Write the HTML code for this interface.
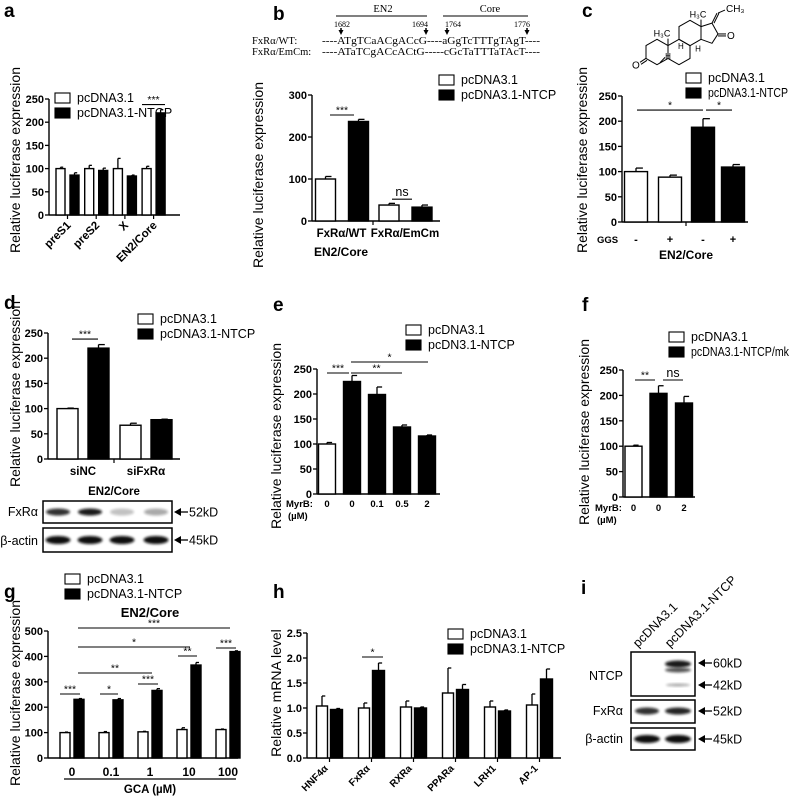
<!DOCTYPE html>
<html><head><meta charset="utf-8">
<style>
html,body{margin:0;padding:0;background:#fff;}
svg{display:block;font-family:"Liberation Sans",Arial,sans-serif;}
.tk{font-size:11px;font-weight:bold;}
.yl{font-size:14px;}
.lg{font-size:12.5px;}
.pl{font-size:19px;font-weight:bold;}
.sig{font-size:10.5px;}
.ser{font-family:"Liberation Serif",serif;font-size:10.5px;}
</style></head>
<body>
<svg id="fig" width="790" height="796" viewBox="0 0 790 796">
<defs>
<filter id="blur" x="-20%" y="-50%" width="140%" height="200%"><feGaussianBlur stdDeviation="1.3"/></filter>
</defs>
</svg>
<script>
// ---------- data ----------
const aCats=["preS1","preS2","X","EN2/Core"];
const aWhite=[100,100,100,100];const aWhiteErr=[3,7,22,5];
const aBlack=[86,96,84,220];const aBlackErr=[5,5,2,7];
const aTicks=[0,50,100,150,200,250];

const bCats=["FxR\u03b1/WT","FxR\u03b1/EmCm"];
const bWhite=[100,38];const bWhiteErr=[6,4];
const bBlack=[237,33];const bBlackErr=[5,5];
const bTicks=[0,100,200,300];

const cGGS=["-","+","-","+"];
const cVals=[100,89,188,109];const cErr=[7,4,17,5];
const cTicks=[0,50,100,150,200,250];

const dCats=["siNC","siFxR\u03b1"];
const dWhite=[100,67];const dWhiteErr=[1,4];
const dBlack=[220,78];const dBlackErr=[7,1];
const dTicks=[0,50,100,150,200,250];

const eDose=["0","0","0.1","0.5","2"];
const eVals=[100,225,199,134,116];const eErr=[3,12,15,4,2];
const eTicks=[0,50,100,150,200,250];

const fDose=["0","0","2"];
const fVals=[100,204,185];const fErr=[2,15,13];
const fTicks=[0,50,100,150,200,250];

const gCats=["0","0.1","1","10","100"];
const gWhite=[100,100,103,112,112];const gWhiteErr=[2,4,2,7,2];
const gBlack=[231,229,266,366,419];const gBlackErr=[3,5,7,10,3];
const gTicks=[0,100,200,300,400,500];

const hCats=["HNF4\u03b1","FxR\u03b1","RXRa","PPARa","LRH1","AP-1"];
const hWhite=[1.04,1.0,1.02,1.3,1.02,1.06];const hWhiteErr=[0.2,0.1,0.12,0.5,0.12,0.22];
const hBlack=[0.97,1.75,1.0,1.37,0.94,1.58];const hBlackErr=[0.02,0.15,0.02,0.1,0.02,0.2];
const hTicks=[0,0.5,1.0,1.5,2.0,2.5];

// ---------- helpers ----------
const svg=document.getElementById('fig');
const NS='http://www.w3.org/2000/svg';
function mk(tag,at,txt){const e=document.createElementNS(NS,tag);for(const k in at)e.setAttribute(k,at[k]);if(txt!==undefined)e.textContent=txt;svg.appendChild(e);return e;}
function line(x1,y1,x2,y2,w){return mk('line',{x1,y1,x2,y2,stroke:'#000','stroke-width':w||1.2});}
function txt(x,y,s,cls,anchor,extra){const at={x,y,'text-anchor':anchor||'start'};if(cls)at['class']=cls;if(extra)Object.assign(at,extra);return mk('text',at,s);}
function scale(y0,ytop,vmax){return v=>y0-v/vmax*(y0-ytop);}
function yAxis(ax,y0,ytop,xEnd,ticks,vmax,fmt,name){
  const Y=scale(y0,ytop,vmax);
  const a=line(ax,Y(ticks[ticks.length-1]),ax,y0,1.4);
  
  const b=line(ax,y0,xEnd,y0,1.4);
  
  ticks.forEach(t=>{line(ax-4,Y(t),ax,Y(t),1.3);
    const l=txt(ax-5,Y(t)+4,fmt?fmt(t):String(t),'tk','end');
    });
  return Y;
}
function bar(x,w,v,err,fill,Y,y0,name){
  const yt=Y(v);
  const r=mk('rect',{x,y:yt,width:w,height:y0-yt,fill:fill,stroke:'#000','stroke-width':1.4});
  
  const ye=Y(v+err);
  line(x+w/2,yt,x+w/2,ye,1.3);line(x+w/2,ye,x+w/2+w*0.3,ye,1.3);
}
function sig(x1,x2,y,s){line(x1,y,x2,y,1.1);const t=txt((x1+x2)/2,y-(s==='ns'?3:1.5),s,s==='ns'?'lg':'sig','middle');}
function ylabel(x,yc,s,fs){const t=txt(x,yc,s,'yl','middle',{transform:`rotate(-90 ${x} ${yc})`});if(fs)t.setAttribute('style','font-size:'+fs+'px');}
function legend(x,y,items,maxw){items.forEach((it,i)=>{const r=mk('rect',{x,y:y+i*15-9,width:15,height:10,fill:it[1],stroke:'#000','stroke-width':1.1});
  
  const ex={};if(maxw&&i===1){ex.textLength=maxw;ex.lengthAdjust='spacingAndGlyphs';}
  const t=txt(x+22,y+i*15,it[0],'lg','start',ex);});}
function plabel(x,y,s){const t=txt(x,y,s,'pl');}
function band(cx,cy,w,h,op){const e=mk('ellipse',{cx,cy,rx:w/2,ry:h/2,fill:'#111',opacity:op,filter:'url(#blur)'});}
function box(x,y,w,h,name){const r=mk('rect',{x,y,width:w,height:h,fill:'none',stroke:'#000','stroke-width':1.5});}
function arrowLabel(x,y,s){mk('polygon',{points:`${x},${y} ${x+7},${y-4} ${x+7},${y+4}`,fill:'#000'});line(x+6,y,x+14,y,1.3);const t=txt(x+15,y+4.5,s,'lg');}

// ---------- panel a ----------
plabel(4,17,'a');
{const ax=49,y0=215,Y=yAxis(ax,y0,99,180,aTicks,250,null,'a');
 aCats.forEach((c,i)=>{const cx=67.5+i*28.7;
  bar(cx-11.5,9,aWhite[i],aWhiteErr[i],'#fff',Y,y0,'a-bar-pcdna-'+c);
  bar(cx+2.5,9,aBlack[i],aBlackErr[i],'#000',Y,y0,'a-bar-ntcp-'+c);
  line(cx,y0,cx,y0+4,1.2);
  const t=txt(cx+4,226,c,'tk','end',{transform:`rotate(-45 ${cx+4} 226)`,style:'font-size:11.5px'});
  });
 sig(142,165,Y(238),'***');
 ylabel(20,160,'Relative luciferase expression');
 legend(55,102,[['pcDNA3.1','#fff'],['pcDNA3.1-NTCP','#000']]);}

// ---------- panel b ----------
plabel(273,20,'b');
{line(336,16,427,16,1);line(443,16,528,16,1);
 txt(383,12,'EN2','ser','middle');txt(490,12,'Core','ser','middle');
 [[342,'1682'],[420,'1694'],[453,'1764'],[522,'1776']].forEach(p=>txt(p[0],27,p[1],'ser','middle',{style:'font-size:8px'}));
 [341,426,447,527].forEach(x=>{mk('polygon',{points:`${x-2.5},30 ${x+2.5},30 ${x},35`,fill:'#000'});line(x,28,x,31,1.5);});
 txt(252,44,'FxR\u03b1/WT:','ser');txt(252,55,'FxR\u03b1/EmCm:','ser');
 txt(322,44,'----ATgTCaACgACcG----aGgTcTTTgTAgT----','ser','start',{textLength:218,lengthAdjust:'spacingAndGlyphs'});
 txt(322,55,'----ATaTCgACcACtG-----cGcTaTTTaTAcT----','ser','start',{textLength:218,lengthAdjust:'spacingAndGlyphs'});
 const ax=312,y0=221,Y=yAxis(ax,y0,95,440,bTicks,300,null,'b');
 bCats.forEach((c,i)=>{const cx=341.5+i*63.5;
  bar(cx-26,20,bWhite[i],bWhiteErr[i],'#fff',Y,y0,'b-bar-pcdna-'+i);
  bar(cx+7,20,bBlack[i],bBlackErr[i],'#000',Y,y0,'b-bar-ntcp-'+i);
  const t=txt(cx,237,c,'tk','middle',{style:'font-size:11.5px'});});
 line(373,y0,373,y0+4,1.2);
 sig(330,354,115,'***');sig(392,412,Y(52),'ns');
 txt(341,256,'EN2/Core','tk','middle',{style:'font-size:12px'});
 ylabel(263,175,'Relative luciferase expression');
 legend(439,84,[['pcDNA3.1','#fff'],['pcDNA3.1-NTCP','#000']]);}

// ---------- panel c ----------
plabel(582,17,'c');
{const s=12.7,h=s*Math.sqrt(3)/2;
 function hex(cx,cy){const p=[];for(let k=0;k<6;k++){const a=Math.PI/180*(60*k-90);p.push((cx+s*Math.cos(a)).toFixed(1)+','+(cy+s*Math.sin(a)).toFixed(1));}
  const e=mk('polygon',{points:p.join(' '),fill:'none',stroke:'#000','stroke-width':1});}
 const A=[657,52],B=[657+2*h,52],C=[657+3*h,52-1.5*s];
 hex(...A);hex(...B);hex(...C);
 line(A[0]+h-3,A[1]+s/2-1,A[0]+3,A[1]+s-2,1);
 const c1=[C[0]+h,C[1]-s/2],c2=[C[0]+h,C[1]+s/2];
 const d1=[c1[0]+11,c1[1]-3.5],d2=[c1[0]+17,C[1]+1],d3=[c2[0]+11,c2[1]+4];
 mk('polyline',{points:`${c1} ${d1} ${d2} ${d3} ${c2}`,fill:'none',stroke:'#000','stroke-width':1});
 line(d2[0],d2[1],d2[0]+8,d2[1],1);line(d2[0],d2[1]+2,d2[0]+8,d2[1]+2,1);
 txt(d2[0]+9,d2[1]+5,'O','','start',{style:'font-size:10px'});
 line(d1[0],d1[1],d1[0]+5,d1[1]-10,1);line(d1[0]+2,d1[1],d1[0]+7,d1[1]-10,1);line(d1[0]+6,d1[1]-10,d1[0]+13,d1[1]-13,1);
 txt(d1[0]+14,d1[1]-11,'CH\u2083','','start',{style:'font-size:10px'});
 line(c1[0],c1[1],c1[0],c1[1]-7,1);txt(c1[0]-3,c1[1]-9,'H\u2083C','','middle',{style:'font-size:9px'});
 line(B[0]-h,B[1]-s/2,B[0]-h,B[1]-s/2-7,1);txt(B[0]-h-6,B[1]-s/2-9,'H\u2083C','','middle',{style:'font-size:9px'});
 const ox=A[0]-h,oy=A[1]+s/2;line(ox,oy,ox-6,oy+4,1);line(ox+1,oy+2,ox-5,oy+6,1);txt(ox-14,oy+10,'O','','start',{style:'font-size:10px'});
 txt(B[0]-1,B[1]-3,'H','','start',{style:'font-size:8px'});txt(B[0]-h,B[1]+7,'H','','middle',{style:'font-size:8px'});txt(C[0]+h-3,C[1]+s+6,'H','','middle',{style:'font-size:8px'});
 const ax=622,y0=222,Y=yAxis(ax,y0,96,748,cTicks,250,null,'c');
 const cx=[636,670,703,733];
 cVals.forEach((v,i)=>{bar(cx[i]-11.5,23,v,cErr[i],i<2?'#fff':'#000',Y,y0,'c-bar-'+i);
  const t=txt(cx[i],243,cGGS[i],'tk','middle');});
 line(686,y0,686,y0+4,1.2);
 txt(597,243,'GGS','tk','start',{style:'font-size:9.5px'});
 sig(637,703,Y(222),'*');sig(706,732,Y(222),'*');
 txt(686,259,'EN2/Core','tk','middle',{style:'font-size:12px'});
 ylabel(587,160,'Relative luciferase expression');
 legend(686,82,[['pcDNA3.1','#fff'],['pcDNA3.1-NTCP','#000']],80);}

// ---------- panel d ----------
plabel(4,309,'d');
{const ax=48,y0=459,Y=yAxis(ax,y0,333,180,dTicks,250,null,'d');
 dCats.forEach((c,i)=>{const cx=83+i*63;
  bar(cx-26,21,dWhite[i],dWhiteErr[i],'#fff',Y,y0,'d-bar-pcdna-'+i);
  bar(cx+5,21,dBlack[i],dBlackErr[i],'#000',Y,y0,'d-bar-ntcp-'+i);
  const t=txt(cx,475,c,'tk','middle',{style:'font-size:11.5px'});});
 line(114,y0,114,y0+4,1.2);
 sig(72,98,Y(238),'***');
 txt(114,495,'EN2/Core','tk','middle',{style:'font-size:11.5px'});
 ylabel(20,394,'Relative luciferase expression');
 legend(138,323,[['pcDNA3.1','#fff'],['pcDNA3.1-NTCP','#000']]);
 box(43,501,129,22,'d-blot-fxra');box(43,528,129,24,'d-blot-actin');
 [[58,.85],[90,.95],[122,.25],[156,.35]].forEach(b=>band(b[0],512,24,7,b[1]));
 [58,90,122,156].forEach(x=>band(x,540,25,8,1));
 txt(38,516,'FxR\u03b1','lg','end');txt(38,545,'\u03b2-actin','lg','end');
 arrowLabel(174,512,'52kD');arrowLabel(174,540,'45kD');}

// ---------- panel e ----------
plabel(273,311,'e');
{const ax=317,y0=494,Y=yAxis(ax,y0,369,440,eTicks,250,null,'e');
 eVals.forEach((v,i)=>{const cx=327+i*25;bar(cx-8.5,17,v,eErr[i],i===0?'#fff':'#000',Y,y0,'e-bar-'+i);
  const t=txt(cx,507,eDose[i],'tk','middle',{style:'font-size:9.5px'});});
 txt(286,507,'MyrB:','tk','start',{style:'font-size:9.5px'});txt(288,519,'(\u00b5M)','tk','start',{style:'font-size:9.5px'});
 sig(327,349,373,'***');sig(351,402,373,'**');sig(351,428,362,'*');
 ylabel(281,436,'Relative luciferase expression');
 legend(406,334,[['pcDNA3.1','#fff'],['pcDN3.1-NTCP','#000']]);}

// ---------- panel f ----------
plabel(582,311,'f');
{const ax=623,y0=497,Y=yAxis(ax,y0,370,695,fTicks,250,null,'f');
 fVals.forEach((v,i)=>{const cx=[633.5,658.5,684][i];bar(cx-8.5,17,v,fErr[i],i===0?'#fff':'#000',Y,y0,'f-bar-'+i);
  const t=txt(cx,511,fDose[i],'tk','middle',{style:'font-size:9.5px'});});
 txt(595,511,'MyrB:','tk','start',{style:'font-size:9.5px'});txt(597,523,'(\u00b5M)','tk','start',{style:'font-size:9.5px'});
 sig(635,655,380,'**');sig(663,683,380,'ns');
 ylabel(589,432,'Relative luciferase expression');
 legend(669,341,[['pcDNA3.1','#fff'],['pcDNA3.1-NTCP/mk','#000']],98);}

// ---------- panel g ----------
plabel(4,598,'g');
{const ax=48,y0=758,Y=yAxis(ax,y0,631,238,gTicks,500,null,'g');
 gCats.forEach((c,i)=>{const cx=72+i*39;
  bar(cx-12,10,gWhite[i],gWhiteErr[i],'#fff',Y,y0,'g-bar-pcdna-'+c);
  bar(cx+2,10,gBlack[i],gBlackErr[i],'#000',Y,y0,'g-bar-ntcp-'+c);
  const t=txt(cx,776,c,'tk','middle',{style:'font-size:12px'});});
 line(64,779,236,779,1.3);
 txt(150,793,'GCA (\u00b5M)','tk','middle',{style:'font-size:11.5px'});
 txt(150,617,'EN2/Core','tk','middle',{style:'font-size:13px'});
 sig(60,80,694,'***');sig(100,118,694,'*');sig(138,158,684,'***');sig(178,197,656,'**');sig(216,236,648,'***');
 sig(78,152,673,'**');sig(78,190,647,'*');sig(78,230,628,'***');
 ylabel(20,693,'Relative luciferase expression');
 legend(65,583,[['pcDNA3.1','#fff'],['pcDNA3.1-NTCP','#000']]);}

// ---------- panel h ----------
plabel(273,598,'h');
{const ax=307,y0=758,Y=yAxis(ax,y0,633,561,hTicks,2.5,t=>t.toFixed(1),'h');
 hCats.forEach((c,i)=>{const cx=329.5+i*42;
  bar(cx-13,11,hWhite[i],hWhiteErr[i],'#fff',Y,y0,'h-bar-pcdna-'+c);
  bar(cx+1,12,hBlack[i],hBlackErr[i],'#000',Y,y0,'h-bar-ntcp-'+c);
  line(cx,y0,cx,y0+4,1.2);
  const t=txt(cx-1,769,c,'tk','end',{transform:`rotate(-45 ${cx-1} 769)`,style:'font-size:10px'});
  });
 sig(362,383,657,'*');
 ylabel(281,693,'Relative mRNA level');
 legend(448,638,[['pcDNA3.1','#fff'],['pcDNA3.1-NTCP','#000']]);}

// ---------- panel i ----------
plabel(581,594,'i');
{txt(638,648,'pcDNA3.1','lg','start',{transform:'rotate(-45 638 648)'});
 txt(670,648,'pcDNA3.1-NTCP','lg','start',{transform:'rotate(-45 670 648)'});
 box(631,652,64,44,'i-blot-ntcp');box(631,700,64,23,'i-blot-fxra');box(631,728,64,22,'i-blot-actin');
 band(678,664,26,7,.95);band(678,670,26,5,.7);band(678,685,24,3,.35);
 band(647,711,24,7,.85);band(678,711,26,7,.9);
 band(647,739,26,8,1);band(678,739,26,8,1);
 txt(623,680,'NTCP','lg','end');txt(623,715,'FxR\u03b1','lg','end');txt(623,743,'\u03b2-actin','lg','end');
 arrowLabel(698,663,'60kD');arrowLabel(698,685,'42kD');arrowLabel(698,711,'52kD');arrowLabel(698,739,'45kD');}
</script>
</body></html>
